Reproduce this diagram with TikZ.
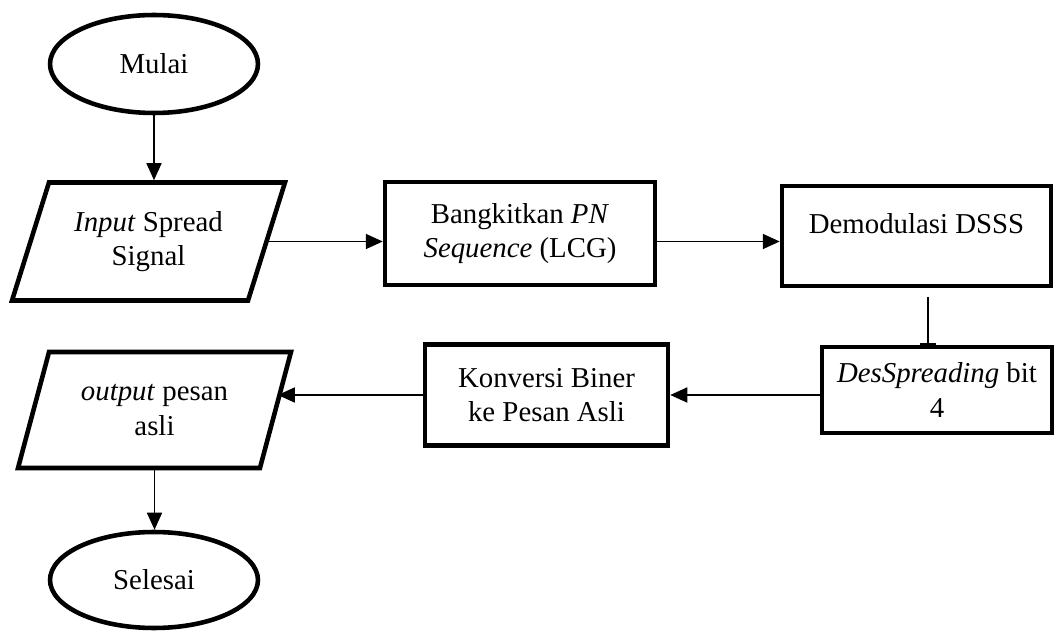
\documentclass[tikz,border=0pt]{standalone}
\usepackage{fontspec}
\setmainfont{Liberation Serif}
\usetikzlibrary{shapes.geometric,arrows.meta}

\tikzset{
  startstop/.style={ellipse, draw, line width=2.6pt, minimum width=4.16cm, minimum height=1.96cm, inner sep=0pt},
  io/.style={trapezium, trapezium left angle=58.5, trapezium right angle=121.5, trapezium stretches body,
    draw, line width=2.6pt, minimum width=5.46cm, minimum height=2.36cm, inner sep=0pt, align=center},
  process/.style={rectangle, draw, line width=2.6pt, inner sep=0pt, align=center},
  arrow/.style={line width=1pt, -{Triangle[length=0.34cm,width=0.3cm]}},
}

\begin{document}
\begin{tikzpicture}[x=0.02cm, y=-0.02cm, every node/.style={font=\fontsize{16.4}{19.4}\selectfont}]
    \useasboundingbox (0,0) rectangle (1055,631);
    % Start and input
    \node[startstop] (mulai) at (154,64) {Mulai};
    \node[io] (in) at (148.5,241.5) {\textit{Input} Spread\\Signal};
    % Top row of processes
    \node[process, minimum width=5.4cm, minimum height=2.06cm] (pn) at (520,233.5) {Bangkitkan \textit{PN}\\\textit{Sequence} (LCG)};
    \node[process, minimum width=5.38cm, minimum height=2cm, text depth=0.48cm] (demod) at (916.5,236) {Demodulasi DSSS};
    % Bottom row of processes
    \node[process, minimum width=4.6cm, minimum height=1.72cm] (desp) at (937,390) {\textit{DesSpreading} bit\\4};
    \node[process, minimum width=4.86cm, minimum height=2.02cm] (konv) at (546.5,395) {Konversi Biner\\ke Pesan Asli};
    % Output and end
    \node[io, minimum height=2.32cm] (out) at (154.5,410) {\textit{output} pesan\\asli};
    \node[startstop, minimum height=1.92cm] (sel) at (154,580) {Selesai};
    % Connectors
    \coordinate (tee) at (928,297);
    \draw[arrow] (mulai.south) -- (mulai.south |- in.north);
    \draw[arrow] (in.east) -- (in.east -| pn.west);
    \draw[arrow] (pn.east |- in.east) -- (in.east -| demod.west);
    \draw[line width=1pt, -{Bar[width=0.32cm]}] (tee) -- (tee |- desp.north);
    \draw[arrow] (desp.west |- konv.east) -- (konv.east);
    \draw[arrow] (konv.west) -- (konv.west -| out.east);
    \draw[arrow] (out.south) -- (out.south |- sel.north);
\end{tikzpicture}
\end{document}
